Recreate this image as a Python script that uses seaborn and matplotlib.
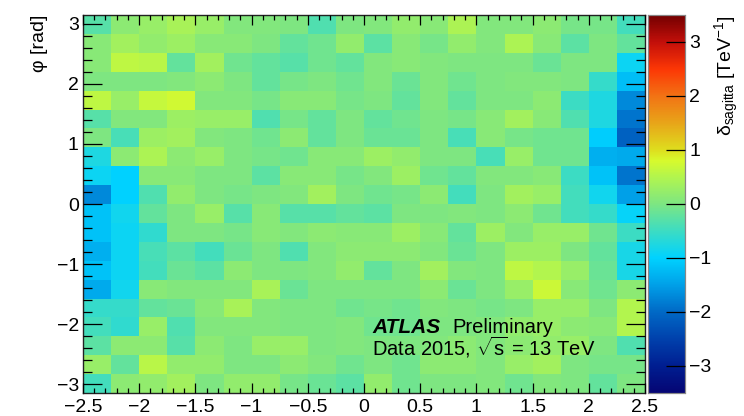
import numpy as np
import pandas as pd
import matplotlib
matplotlib.use("Agg")
import matplotlib.pyplot as plt
from matplotlib.colors import LinearSegmentedColormap
from matplotlib.ticker import FixedLocator, FixedFormatter
import seaborn as sns

# --- binning --------------------------------------------------------------
eta_lo, eta_hi, n_eta = -2.5, 2.5, 20
phi_lo, phi_hi, n_phi = -np.pi, np.pi, 20
eta_step = (eta_hi - eta_lo) / n_eta
phi_step = (phi_hi - phi_lo) / n_phi
eta_centers = eta_lo + (np.arange(n_eta) + 0.5) * eta_step
phi_centers = phi_hi - (np.arange(n_phi) + 0.5) * phi_step   # top row first

# --- sagitta bias per (phi, eta) bin [TeV^-1], rows from phi = +pi downward --
sagitta_bias = [
    [-0.30, 0.15, 0.25, 0.40, 0.25, 0.05, 0.05, 0.00, -0.35, 0.00,
     0.05, 0.20, 0.10, 0.45, 0.05, 0.05, 0.15, -0.05, -0.05, -0.45],
    [0.10, 0.35, 0.20, 0.30, 0.10, 0.10, 0.00, -0.20, -0.10, 0.20,
     -0.25, 0.10, -0.05, 0.20, 0.05, 0.45, 0.10, -0.25, 0.00, -0.20],
    [0.10, 0.60, 0.55, -0.20, 0.35, -0.10, -0.20, -0.30, -0.10, -0.20,
     0.05, 0.10, 0.05, 0.00, 0.00, 0.00, -0.15, 0.00, 0.00, -0.90],
    [0.00, 0.00, 0.00, 0.05, 0.15, 0.00, -0.20, -0.05, 0.00, -0.10,
     0.05, -0.15, 0.05, -0.10, 0.00, 0.05, 0.05, 0.00, -0.55, -1.20],
    [0.60, 0.25, 0.65, 0.75, 0.05, 0.05, -0.05, 0.10, 0.10, -0.05,
     0.00, -0.20, 0.05, -0.20, 0.00, 0.00, 0.15, -0.50, -0.75, -1.70],
    [-0.30, 0.05, 0.05, 0.30, 0.25, 0.25, -0.35, -0.05, -0.20, 0.00,
     -0.20, -0.10, 0.00, -0.05, 0.10, 0.35, 0.10, -0.35, -0.75, -1.90],
    [0.00, -0.40, 0.30, 0.35, 0.05, 0.00, -0.10, 0.15, -0.20, 0.00,
     -0.15, -0.15, 0.00, -0.40, 0.10, -0.05, -0.10, -0.10, -1.05, -2.10],
    [-0.75, 0.15, 0.45, 0.15, 0.25, 0.00, -0.05, -0.10, 0.10, 0.10,
     0.30, 0.20, 0.00, 0.00, -0.40, 0.25, -0.10, -0.10, -1.35, -1.40],
    [-0.90, -1.00, 0.10, 0.10, 0.00, 0.00, -0.25, 0.10, 0.10, -0.05,
     0.05, 0.30, -0.10, -0.20, 0.05, 0.05, 0.10, -0.50, -1.15, -1.90],
    [-1.70, -1.00, -0.35, 0.20, 0.00, -0.05, 0.00, 0.05, 0.35, 0.00,
     -0.10, -0.05, 0.15, -0.45, 0.00, 0.35, 0.25, -0.45, -0.85, -1.50],
    [-1.15, -0.85, -0.20, 0.00, 0.25, -0.30, 0.10, -0.30, -0.30, -0.20,
     -0.25, 0.00, 0.00, 0.05, 0.00, 0.15, -0.10, -0.45, -0.55, -0.95],
    [-1.15, -0.90, -0.60, 0.00, 0.00, -0.05, 0.10, 0.05, 0.15, 0.10,
     0.10, 0.30, 0.10, -0.20, 0.30, 0.05, 0.25, 0.25, -0.10, -0.50],
    [-1.35, -0.90, -0.40, -0.25, -0.45, -0.15, 0.00, -0.35, 0.05, 0.15,
     0.15, 0.15, 0.05, -0.15, 0.00, 0.30, 0.30, 0.00, -0.20, -0.80],
    [-1.15, -0.90, -0.45, -0.15, -0.25, 0.15, 0.00, 0.00, 0.05, 0.20,
     -0.20, 0.00, 0.35, 0.05, 0.00, 0.60, 0.50, 0.25, -0.15, -0.80],
    [-1.40, -0.85, 0.10, 0.05, 0.05, 0.05, 0.40, -0.15, 0.00, 0.00,
     0.00, 0.00, 0.15, -0.15, 0.00, 0.25, 0.70, 0.10, -0.10, 0.15],
    [-0.55, -0.55, -0.20, -0.15, 0.10, 0.40, 0.05, 0.00, 0.00, -0.10,
     -0.05, -0.10, 0.05, 0.00, -0.05, 0.00, 0.25, 0.25, 0.00, 0.50],
    [-0.45, -0.60, 0.25, -0.35, 0.05, 0.05, 0.05, 0.00, 0.00, 0.05,
     -0.10, -0.10, 0.00, 0.00, 0.05, 0.20, 0.25, 0.15, 0.10, 0.50],
    [-0.25, 0.15, 0.15, -0.30, 0.15, 0.00, 0.25, 0.25, 0.00, 0.05,
     0.00, 0.00, 0.05, 0.15, 0.05, 0.15, 0.20, 0.25, 0.00, -0.35],
    [0.25, -0.20, 0.55, 0.20, 0.20, 0.00, 0.00, 0.15, 0.05, -0.10,
     0.00, -0.10, 0.15, 0.15, 0.05, 0.25, 0.35, 0.00, -0.05, -0.05],
    [-0.45, 0.15, 0.20, 0.35, 0.00, 0.20, 0.20, -0.05, -0.15, -0.25,
     0.20, -0.10, 0.00, 0.00, 0.05, -0.10, 0.05, 0.00, -0.20, 0.00],
]

z_lo, z_hi = -3.5, 3.5
eta_ticks = [-2.5, -2, -1.5, -1, -0.5, 0, 0.5, 1, 1.5, 2, 2.5]
phi_ticks = [-3, -2, -1, 0, 1, 2, 3]
z_ticks = [-3, -2, -1, 0, 1, 2, 3]

# --- palette: dark blue -> cyan -> green -> yellow -> red -> dark red -----
palette_stops = [
    (-3.5, (5, 5, 115)), (-3.0, (0, 30, 145)), (-2.5, (0, 65, 172)),
    (-2.0, (0, 105, 198)), (-1.5, (0, 160, 232)), (-1.0, (0, 210, 255)),
    (-0.5, (60, 220, 195)), (0.0, (125, 230, 130)), (0.5, (178, 245, 78)),
    (0.8, (215, 250, 45)), (1.0, (222, 222, 30)), (1.5, (232, 165, 25)),
    (2.0, (242, 115, 20)), (2.5, (252, 55, 5)), (3.0, (195, 15, 10)),
    (3.5, (115, 0, 0)),
]
cmap = LinearSegmentedColormap.from_list(
    "sagitta",
    [((v - z_lo) / (z_hi - z_lo), tuple(c / 255 for c in rgb)) for v, rgb in palette_stops],
    N=512,
)

sns.set_theme(style="white")
plt.rcParams["font.family"] = ["Liberation Sans", "DejaVu Sans"]
plt.rcParams["mathtext.fontset"] = "custom"
plt.rcParams["mathtext.rm"] = "Liberation Sans"
plt.rcParams["mathtext.it"] = "Liberation Sans:italic"
plt.rcParams["mathtext.bf"] = "Liberation Sans:bold"
plt.rcParams["axes.unicode_minus"] = True

df = pd.DataFrame(sagitta_bias, index=np.round(phi_centers, 3), columns=np.round(eta_centers, 3))

fig = plt.figure(figsize=(7.44, 4.16), dpi=100)
W, H = 744, 416
ax = fig.add_axes([83 / W, 1 - 393 / H, (645 - 83) / W, (393 - 15) / H])
cax = fig.add_axes([648 / W, 1 - 393 / H, (685 - 648) / W, (393 - 15) / H])

sns.heatmap(df, ax=ax, cbar_ax=cax, cmap=cmap, vmin=z_lo, vmax=z_hi,
            xticklabels=False, yticklabels=False, linewidths=0)
ax.set_axisbelow(False)
cax.set_axisbelow(False)


def eta_to_x(e):
    return (np.asarray(e, dtype=float) - eta_lo) / eta_step


def phi_to_y(p):
    return (phi_hi - np.asarray(p, dtype=float)) / phi_step


def fmt(v):
    return f"{v:g}".replace("-", "\u2212")


ax.xaxis.set_major_locator(FixedLocator(eta_to_x(eta_ticks)))
ax.xaxis.set_major_formatter(FixedFormatter([fmt(v) for v in eta_ticks]))
ax.xaxis.set_minor_locator(FixedLocator(eta_to_x(np.arange(-25, 26) / 10)))
ax.yaxis.set_major_locator(FixedLocator(phi_to_y(phi_ticks)))
ax.yaxis.set_major_formatter(FixedFormatter([fmt(v) for v in phi_ticks]))
ax.yaxis.set_minor_locator(FixedLocator(phi_to_y(np.arange(-15, 16) / 5)))

for s in ax.spines.values():
    s.set_visible(True)
    s.set_color("#222222")
    s.set_linewidth(1.0)

ax.tick_params(which="both", direction="in", top=True, right=True,
               bottom=True, left=True, color="black", width=0.9,
               labelsize=14, labelcolor="black")
ax.tick_params(axis="x", which="major", length=7, pad=4)
ax.tick_params(axis="x", which="minor", length=3.6)
ax.tick_params(axis="y", which="major", length=13.7, pad=3)
ax.tick_params(axis="y", which="minor", length=6.8)

ax.set_xlabel("")
ax.set_ylabel("\u03c6 [rad]", fontsize=14, loc="top", color="black")
ax.yaxis.set_label_coords(-0.062, 1.0)

# colour axis
cax.yaxis.set_major_locator(FixedLocator(z_ticks))
cax.yaxis.set_major_formatter(FixedFormatter([fmt(v) for v in z_ticks]))
cax.tick_params(which="major", direction="in", length=13.7, width=0.9,
                right=True, left=False, labelright=True, labelleft=False,
                labelsize=14, pad=3, color="black", labelcolor="black")
cax.minorticks_off()
for s in cax.spines.values():
    s.set_visible(True)
    s.set_linewidth(0.8)
    s.set_color("#888888")

fig.text(727 / W, 1 - 15 / H, "\u03b4$_{\\mathrm{sagitta}}$ [TeV$^{-1}$]",
         rotation=90, ha="center", va="top", fontsize=14, color="black")

# experiment label
fig.text(372 / W, 1 - 333 / H, "ATLAS", fontsize=15, fontweight="bold",
         fontstyle="italic", va="baseline", ha="left", color="black")
fig.text(452 / W, 1 - 333 / H, "Preliminary", fontsize=14.5,
         va="baseline", ha="left", color="black")
fig.text(372 / W, 1 - 356 / H, "Data 2015, $\\sqrt{\\mathrm{s}}$ = 13 TeV",
         fontsize=14.5, va="baseline", ha="left", color="black")

fig.savefig("out.png", dpi=100)
